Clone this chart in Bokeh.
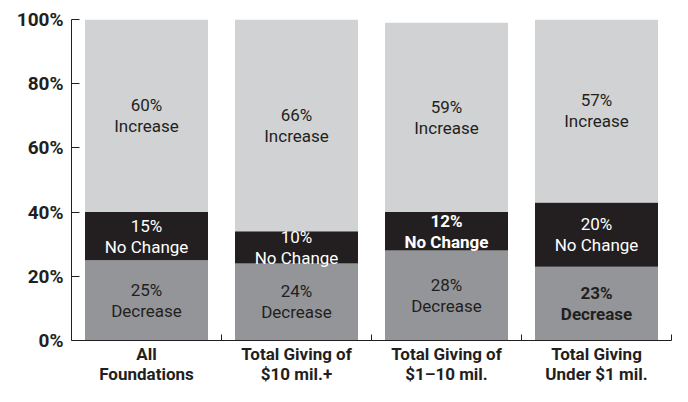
from bokeh.plotting import figure
from bokeh.models import ColumnDataSource, Range1d, FixedTicker
from bokeh.core.properties import value
from bokeh.embed import file_html
from bokeh.resources import INLINE

categories = ["All\nFoundations", "Total Giving of\n$10 mil.+", "Total Giving of\n$1\u201310 mil.", "Total Giving\nUnder $1 mil."]
decrease = [25, 24, 28, 23]
no_change = [15, 10, 12, 20]
increase = [60, 66, 59, 57]
y_ticks = [0, 20, 40, 60, 80, 100]

C_DEC = "#939598"
C_NC = "#231f20"
C_INC = "#d1d2d4"
DARK = "#231f20"
FONT = "Roboto"

xs = list(range(len(categories)))
src = ColumnDataSource(dict(x=xs, decrease=decrease, no_change=no_change, increase=increase))

p = figure(width=672, height=386, output_backend="svg", toolbar_location=None,
           x_range=Range1d(-0.5, len(categories) - 0.5), y_range=Range1d(0, 100),
           min_border_left=71, min_border_right=1, min_border_top=19, min_border_bottom=30)
p.outline_line_color = None
p.xgrid.grid_line_color = None
p.ygrid.grid_line_color = None
p.background_fill_color = "white"
p.border_fill_color = "white"

p.vbar_stack(["decrease", "no_change", "increase"], x="x", width=0.82, source=src,
             color=[C_DEC, C_NC, C_INC], line_color=None)

# labels
lx, ly, lt, lc, lf = [], [], [], [], []
bold_cells = {(2, "No Change"), (3, "Decrease")}
for i in xs:
    d, n, inc = decrease[i], no_change[i], increase[i]
    segs = [(d / 2, f"{d}%\nDecrease", DARK, "Decrease"),
            (d + n / 2, f"{n}%\nNo Change", "white", "No Change"),
            (d + n + inc / 2, f"{inc}%\nIncrease", DARK, "Increase")]
    for y, t, c, name in segs:
        lx.append(i); ly.append(y); lt.append(t); lc.append(c)
        lf.append("bold" if (i, name) in bold_cells else "normal")
lsrc = ColumnDataSource(dict(x=lx, y=ly, t=lt, c=lc, f=lf))
p.text(x="x", y="y", text="t", source=lsrc, text_color="c", text_font_style="f",
       text_align="center", text_baseline="middle", text_font=value(FONT),
       text_font_size="17px", text_line_height=1.05)

# x axis
xa = p.xaxis[0]
xa.ticker = FixedTicker(ticks=xs, minor_ticks=[i + 0.5 for i in xs])
xa.major_label_overrides = {i: categories[i] for i in xs}
xa.major_tick_in = 0
xa.major_tick_out = 0
xa.minor_tick_in = 6
xa.minor_tick_out = 0
xa.axis_line_color = DARK
xa.minor_tick_line_color = DARK
xa.major_label_text_font = FONT
xa.major_label_text_font_style = "bold"
xa.major_label_text_font_size = "17px"
xa.major_label_text_color = DARK
xa.major_label_standoff = 3
xa.major_label_text_line_height = 1.0

# y axis
ya = p.yaxis[0]
ya.ticker = FixedTicker(ticks=y_ticks)
ya.major_label_overrides = {t: f"{t}%" for t in y_ticks}
ya.major_tick_in = 8
ya.major_tick_out = 0
ya.minor_tick_in = 0
ya.minor_tick_out = 0
ya.minor_tick_line_color = None
ya.axis_line_color = DARK
ya.major_tick_line_color = DARK
ya.major_label_text_font = FONT
ya.major_label_text_font_style = "bold"
ya.major_label_text_font_size = "19px"
ya.major_label_text_color = DARK
ya.major_label_standoff = 8

open("out.html", "w").write(file_html(p, INLINE))
